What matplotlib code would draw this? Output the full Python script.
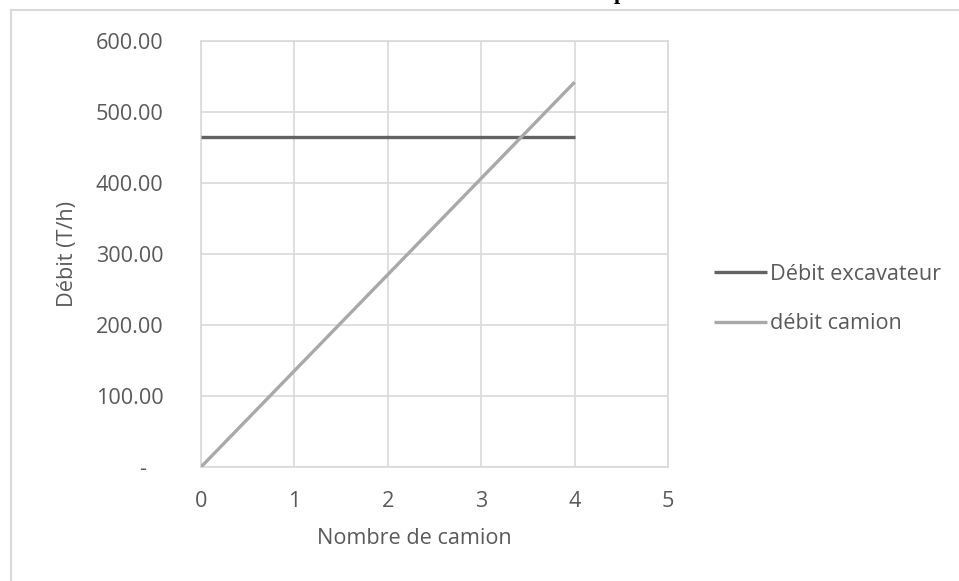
import matplotlib
matplotlib.use("Agg")
import matplotlib.pyplot as plt
from matplotlib.lines import Line2D

# Data
trucks = [0, 1, 2, 3, 4]
debit_excavateur = [465, 465, 465, 465, 465]
debit_camion = [0, 135.5, 271, 406.5, 542]
x_ticks = [0, 1, 2, 3, 4, 5]
y_ticks = [0, 100, 200, 300, 400, 500, 600]
series_names = ["Débit excavateur", "débit camion"]

plt.rcParams['font.family'] = ['Open Sans', 'DejaVu Sans']
TXT = '#595959'
GRID = '#d9d9d9'
FS = 15.6

W, H = 959, 581
fig = plt.figure(figsize=(W / 100, H / 100), dpi=100)
ax = fig.add_axes([201 / W, 1 - 467 / H, (668 - 201) / W, (467 - 41) / H])

ax.plot(trucks, debit_excavateur, color='#636363', lw=2.4, solid_capstyle='butt',
        label=series_names[0], zorder=3)
ax.plot(trucks, debit_camion, color='#a9a9a9', lw=2.4, solid_capstyle='butt',
        label=series_names[1], zorder=3)

ax.set_xlim(0, 5)
ax.set_ylim(0, 600)
ax.set_xticks(x_ticks)
ax.set_yticks(y_ticks)
ax.set_xticklabels([str(v) for v in x_ticks])
ax.set_yticklabels(['-   ' if v == 0 else f"{v:.2f}" for v in y_ticks])
ax.grid(True, color=GRID, lw=1.2)
ax.set_axisbelow(True)
for s in ax.spines.values():
    s.set_color(GRID)
    s.set_linewidth(1.2)
ax.tick_params(axis='both', length=0, labelsize=FS, labelcolor=TXT)
ax.tick_params(axis='y', pad=27)
ax.tick_params(axis='x', pad=17)

ax.set_xlabel("Nombre de camion", fontsize=FS, color=TXT)
ax.xaxis.set_label_coords((414 - 201) / (668 - 201), -(539 - 467) / (467 - 41), transform=ax.transAxes)
ax.xaxis.label.set_va('center')
ax.set_ylabel("Débit (T/h)", fontsize=FS, color=TXT)
ax.yaxis.set_label_coords(-(201 - 68) / (668 - 201), 0.5)
ax.yaxis.label.set_va('center')

leg = ax.legend(loc='upper left', bbox_to_anchor=(714 / W, 1 - 264 / H),
                bbox_transform=fig.transFigure, frameon=False, fontsize=FS,
                handlelength=2.45, handletextpad=0.12, labelspacing=1.3,
                borderaxespad=0, borderpad=0)
for t in leg.get_texts():
    t.set_color(TXT)

# Chart area border (partially visible)
fig.add_artist(Line2D([11 / W, 1.0], [1 - 10 / H, 1 - 10 / H], transform=fig.transFigure,
                      color=GRID, lw=1.5))
fig.add_artist(Line2D([11 / W, 11 / W], [0, 1 - 10 / H], transform=fig.transFigure,
                      color=GRID, lw=1.5))

# Cut-off title fragment from the page above
fig.text(620 / W, 1 + 1.0 / H, "p", fontsize=16, fontweight='bold', color='black',
         family=['Liberation Serif', 'DejaVu Serif'], ha='center', va='baseline')

fig.savefig("out.png", dpi=100)
